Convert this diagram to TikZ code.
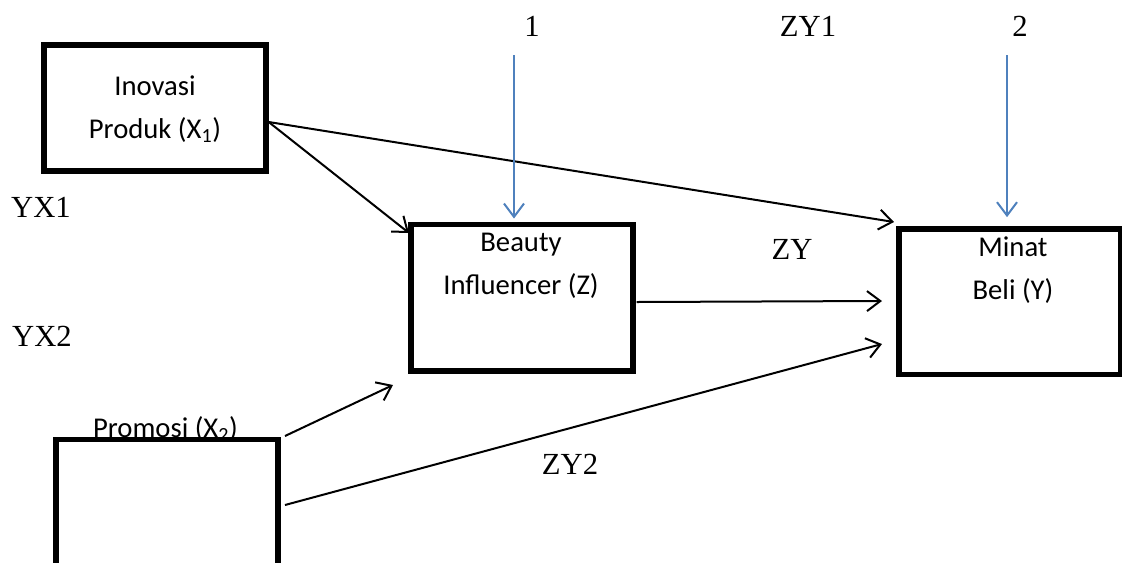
\documentclass[tikz,border=0pt]{standalone}
\usepackage{fontspec}
\setmainfont{Carlito}
\newfontfamily\serifnum{Liberation Serif}
\usetikzlibrary{arrows.meta,calc}
\definecolor{pathblue}{RGB}{79,129,189}
\begin{document}
\begin{tikzpicture}[x=0.75pt,y=-0.75pt,
  varbox/.style={draw,line width=4pt,rectangle,minimum width=166.5pt,inner sep=0pt},
  boxtext/.style={align=center,font=\fontsize{21.5}{32}\selectfont,inner sep=0pt},
  coef/.style={font=\serifnum\fontsize{23}{26}\selectfont,inner sep=0pt},
  link/.style={line width=1.5pt,-{Straight Barb[length=10pt,width=15pt,line width=1.5pt]}},
  errlink/.style={link,draw=pathblue}]
\useasboundingbox (0,0) rectangle (1122,562);
\clip (0,0) rectangle (1122,562);

% variable boxes
\node[varbox,minimum height=94.5pt] (X1) at (155,108) {};
\node[boxtext] (X1t) at (155,109) {Inovasi\\Produk (X\textsubscript{1})};

\node[varbox,minimum height=110pt] (Z) at (522,297.5) {};
\node[boxtext] (Zt) at (521,266) {Beauty\\Influencer (Z)};

\node[varbox,minimum height=109pt] (Y) at (1010,301.5) {};
\node[boxtext] (Yt) at (1013,270) {Minat\\Beli (Y)};

% the caption sits on the top edge, which is drawn over it
\node[boxtext] (X2t) at (165.5,429) {Promosi (X\textsubscript{2})};
\node[varbox,minimum height=112pt,anchor=north] (X2) at (167,437) {};

% path coefficient labels
\node[coef] (l1) at (532,26) {1};
\node[coef] (lzy1) at (808,26) {ZY1};
\node[coef] (l2) at (1020,26) {2};
\node[coef] (lyx1) at (41,207.5) {YX1};
\node[coef] (lyx2) at (42,336) {YX2};
\node[coef] (lzy) at (792,249) {ZY};
\node[coef] (lzy2) at (570,464) {ZY2};

% connector end points
\coordinate (x1out) at ($(X1.east)+(0,14)$);
\coordinate (zin1) at (409,233);
\coordinate (yin1) at (894,222);
\coordinate (zout) at ($(Z.east)+(1,4.5)$);
\coordinate (yin2) at (882,301);
\coordinate (x2outa) at (285,436);
\coordinate (zin2) at (393,385);
\coordinate (x2outb) at (285,505);
\coordinate (yin3) at (882,344);
\coordinate (e1) at (514,55);
\coordinate (e2) at (1007,55);

% paths
\draw[link] (x1out) -- (zin1);
\draw[link] (x1out) -- (yin1);
\draw[link] (zout) -- (yin2);
\draw[link] (x2outa) -- (zin2);
\draw[link] (x2outb) -- (yin3);
\draw[errlink] (e1) -- ($(Z.north)+(-8,-3)$);
\draw[errlink] (e2) -- ($(Y.north)+(-3,-9)$);
\end{tikzpicture}
\end{document}
